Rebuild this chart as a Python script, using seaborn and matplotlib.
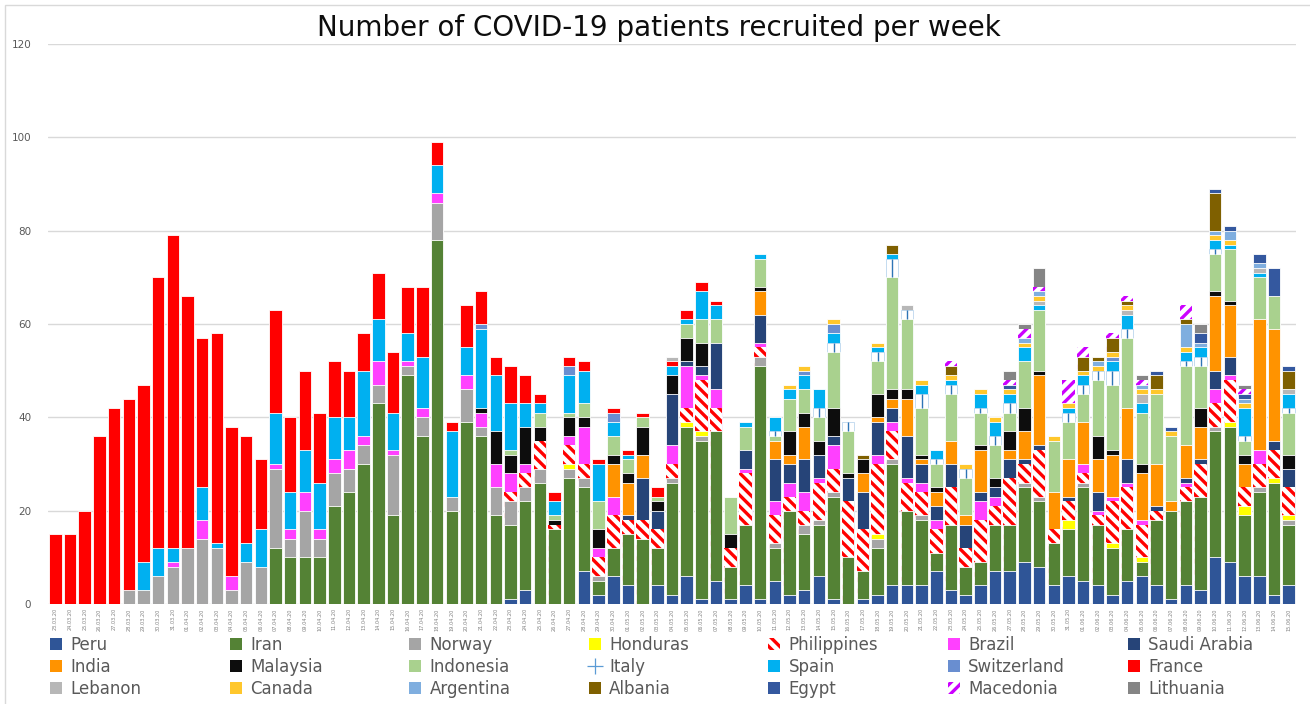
import matplotlib
matplotlib.use("Agg")
import matplotlib.pyplot as plt
from matplotlib.patches import Patch, Rectangle
from matplotlib.lines import Line2D
import numpy as np
import pandas as pd
import seaborn as sns

# one label per day, 23.03.20 .. 15.06.20
dates = pd.date_range("2020-03-23", "2020-06-15", freq="D").strftime("%d.%m.%y").tolist()

peru = [0] * 30 + [
    0, 1, 3, 0, 0, 0, 7, 2, 6, 4,
    0, 4, 2, 6, 1, 5, 1, 4, 1, 5,
    2, 3, 6, 1, 0, 1, 2, 4, 4, 4,
    7, 3, 2, 4, 7, 7, 9, 8, 4, 6,
    5, 4, 2, 5, 6, 4, 1, 4, 3, 10,
    9, 6, 6, 2, 4]
iran = [0] * 10 + [
    0, 0, 0, 0, 0, 12, 10, 10, 10, 21,
    24, 30, 43, 19, 49, 36, 78, 20, 39, 36,
    19, 16, 19, 26, 16, 27, 18, 3, 6, 11,
    14, 8, 24, 32, 34, 32, 7, 13, 50, 7,
    18, 12, 11, 22, 10, 6, 10, 26, 16, 14,
    4, 14, 6, 5, 10, 10, 16, 14, 9, 10,
    20, 13, 10, 11, 3, 14, 19, 18, 20, 27,
    29, 13, 18, 24, 13]
norway = [
    0, 0, 0, 0, 0, 3, 3, 6, 8, 12,
    14, 12, 3, 9, 8, 17, 4, 10, 4, 7,
    5, 4, 4, 13, 2, 4, 8, 3, 7, 2,
    6, 5, 3, 3, 0, 2, 2, 1, 0, 0,
    0, 0, 1, 0, 1, 0, 0, 0, 2, 1,
    0, 2, 1, 1, 0, 0, 2, 1, 0, 1,
    0, 0, 0, 0, 0, 0, 1, 1, 0, 0,
    1, 0, 0, 0, 0, 0, 0, 0, 0, 1,
    0, 0, 1, 0, 1]
honduras = [0] * 30 + [
    0, 0, 0, 0, 0, 1, 0, 0, 0, 0,
    0, 0, 0, 1, 1, 0, 0, 0, 0, 0,
    0, 0, 0, 0, 0, 0, 1, 0, 0, 0,
    0, 0, 0, 0, 0, 0, 0, 0, 0, 2,
    0, 0, 1, 0, 1, 0, 0, 0, 0, 0,
    1, 2, 0, 1, 1]
philippines = [0] * 30 + [
    0, 2, 3, 6, 1, 4, 3, 4, 7, 3,
    4, 4, 3, 3, 11, 5, 4, 11, 2, 6,
    3, 3, 8, 5, 12, 9, 15, 6, 6, 5,
    5, 8, 4, 9, 4, 10, 4, 10, 3, 4,
    2, 2, 9, 9, 7, 2, 0, 3, 7, 5,
    9, 4, 5, 6, 6]
brazil = [
    0, 0, 0, 0, 0, 0, 0, 0, 1, 0,
    4, 0, 3, 0, 0, 1, 2, 4, 2, 3,
    4, 2, 5, 1, 1, 2, 2, 0, 3, 3,
    5, 4, 2, 0, 0, 2, 8, 2, 4, 0,
    0, 0, 4, 9, 1, 4, 0, 1, 1, 3,
    3, 4, 1, 5, 0, 0, 2, 2, 1, 2,
    2, 0, 0, 4, 2, 0, 0, 0, 0, 0,
    2, 1, 1, 1, 1, 0, 0, 1, 0, 3,
    1, 0, 3, 0, 0]
saudi_arabia = [0] * 30 + [
    0, 0, 0, 0, 0, 0, 0, 0, 0, 1,
    9, 4, 11, 1, 2, 10, 0, 4, 6, 9,
    4, 7, 5, 2, 5, 8, 7, 3, 9, 4,
    3, 5, 5, 2, 2, 4, 1, 1, 0, 1,
    0, 4, 0, 5, 0, 1, 0, 1, 1, 4,
    4, 0, 0, 2, 4]
india = [0] * 30 + [
    0, 0, 0, 0, 0, 0, 0, 0, 7, 7,
    5, 0, 0, 0, 0, 0, 0, 0, 5, 4,
    2, 7, 0, 0, 0, 4, 1, 2, 8, 1,
    3, 5, 2, 9, 0, 2, 6, 15, 8, 8,
    9, 7, 9, 11, 10, 9, 2, 7, 7, 16,
    11, 5, 28, 24, 0]
malaysia = [0] * 20 + [
    0, 0, 0, 0, 0, 0, 0, 0, 0, 1,
    7, 4, 8, 3, 1, 4, 2, 4, 2, 2,
    6, 2, 4, 5, 5, 0, 3, 0, 1, 0,
    5, 3, 3, 6, 1, 3, 5, 2, 2, 1,
    1, 0, 0, 1, 2, 4, 5, 1, 0, 0,
    0, 5, 1, 0, 2, 0, 0, 0, 4, 1,
    1, 2, 0, 0, 3]
indonesia = [0] * 30 + [
    0, 1, 0, 3, 1, 1, 3, 6, 4, 3,
    2, 1, 0, 3, 5, 5, 8, 5, 6, 1,
    7, 5, 5, 12, 9, 0, 7, 24, 15, 10,
    5, 10, 8, 7, 7, 4, 10, 13, 11, 8,
    6, 12, 14, 15, 11, 15, 14, 17, 9, 8,
    11, 3, 9, 7, 9]
italy = [0] * 40 + [
    0, 0, 0, 0, 0, 0, 0, 0, 0, 1,
    0, 0, 2, 2, 2, 0, 2, 4, 2, 3,
    1, 2, 2, 1, 2, 2, 0, 0, 0, 2,
    2, 2, 3, 2, 0, 0, 0, 1, 2, 1,
    0, 1, 0, 0, 1]
spain = [
    0, 0, 0, 0, 0, 0, 6, 6, 3, 0,
    7, 1, 0, 4, 8, 11, 8, 9, 10, 9,
    7, 14, 9, 8, 6, 11, 6, 14, 6, 17,
    12, 10, 5, 2, 3, 8, 7, 8, 3, 1,
    0, 0, 2, 1, 6, 3, 0, 1, 1, 3,
    2, 3, 4, 2, 0, 0, 1, 1, 0, 2,
    2, 1, 0, 3, 3, 2, 3, 1, 0, 1,
    2, 0, 2, 3, 2, 0, 0, 2, 2, 2,
    1, 6, 1, 0, 3]
switzerland = [0] * 20 + [
    0, 0, 0, 0, 0, 0, 0, 0, 0, 1,
    0, 0, 0, 0, 0, 2, 0, 0, 2, 0,
    0, 0, 0, 0, 0, 0, 0, 0, 0, 0,
    0, 1, 0, 2, 0, 0, 0, 0, 0, 0,
    0, 0, 0, 0, 0, 0, 0, 0, 0, 0,
    0, 0, 1, 0, 0, 0, 0, 0, 0, 0,
    0, 0, 0, 0, 0]
france = [
    15, 15, 20, 36, 42, 41, 38, 58, 67, 54,
    32, 45, 32, 23, 15, 22, 16, 17, 15, 12,
    10, 8, 10, 13, 10, 15, 5, 2, 9, 7,
    4, 8, 6, 2, 2, 2, 2, 1, 1, 1,
    1, 2, 1, 2, 2, 1, 0, 0, 0, 0] + [0] * 35
lebanon = [0] * 40 + [
    0, 0, 1, 0, 0, 0, 0, 0, 0, 0,
    0, 0, 0, 0, 0, 0, 0, 0, 1, 0,
    0, 0, 0, 0, 0, 0, 0, 1, 0, 0,
    0, 0, 0, 1, 2, 0, 0, 0, 0, 0,
    0, 0, 1, 0, 1]
canada = [0] * 50 + [
    1, 1, 0, 1, 0, 0, 1, 0, 0, 1,
    0, 1, 1, 1, 1, 1, 1, 1, 1, 1,
    1, 1, 1, 1, 1, 1, 1, 1, 0, 1,
    1, 1, 0, 0, 0]
argentina = [0] * 60 + [
    0, 0, 0, 0, 0, 0, 1, 1, 0, 0,
    0, 1, 0, 0, 1, 0, 0, 5, 1, 1,
    2, 1, 1, 0, 0]
albania = [0] * 50 + [
    0, 0, 0, 0, 0, 1, 0, 2, 0, 0,
    0, 2, 0, 0, 0, 0, 0, 0, 0, 0,
    3, 1, 3, 1, 0, 3, 0, 1, 0, 8,
    0, 0, 0, 0, 4]
egypt = [0] * 60 + [
    0, 0, 0, 0, 0, 1, 0, 0, 0, 0,
    0, 0, 0, 0, 0, 1, 1, 0, 2, 1,
    1, 1, 2, 6, 1]
macedonia = [0] * 60 + [
    0, 1, 0, 0, 0, 1, 2, 1, 0, 5,
    2, 0, 1, 1, 1, 0, 0, 3, 0, 0,
    0, 1, 0, 0, 0]
lithuania = [0] * 60 + [
    0, 0, 0, 0, 0, 2, 1, 4, 0, 0,
    0, 0, 0, 0, 1, 0, 0, 0, 2, 0,
    0, 1, 0, 0, 0]

countries = ["Peru", "Iran", "Norway", "Honduras", "Philippines", "Brazil", "Saudi Arabia",
             "India", "Malaysia", "Indonesia", "Italy", "Spain", "Switzerland", "France",
             "Lebanon", "Canada", "Argentina", "Albania", "Egypt", "Macedonia", "Lithuania"]
series = [peru, iran, norway, honduras, philippines, brazil, saudi_arabia,
          india, malaysia, indonesia, italy, spain, switzerland, france,
          lebanon, canada, argentina, albania, egypt, macedonia, lithuania]

colors = {
    "Peru": "#2F5597", "Iran": "#548235", "Norway": "#A5A5A5", "Honduras": "#FFFF00",
    "Philippines": "#FF0000", "Brazil": "#FF40FF", "Saudi Arabia": "#264478",
    "India": "#FF9300", "Malaysia": "#0D0D0D", "Indonesia": "#A9D18E", "Italy": "#5B9BD5",
    "Spain": "#00B0F0", "Switzerland": "#698ED0", "France": "#FF0000", "Lebanon": "#B7B7B7",
    "Canada": "#FFC72C", "Argentina": "#7FAEDF", "Albania": "#7F6000", "Egypt": "#34589F",
    "Macedonia": "#CC00FF", "Lithuania": "#858585",
}


def bar_style(name):
    if name == "Philippines":
        return dict(color="white", edgecolor=colors[name], hatch="\\\\\\", linewidth=0)
    if name == "Macedonia":
        return dict(color="white", edgecolor=colors[name], hatch="///", linewidth=0)
    if name == "Italy":
        return dict(color="white", edgecolor="#BDD7EE", linewidth=0.6)
    return dict(color=colors[name], edgecolor="white", linewidth=0.6)


def legend_handle(name):
    if name == "Italy":
        return Line2D([], [], color=colors[name], marker="+", linestyle="none",
                      markersize=11, markeredgewidth=0.9)
    if name in ("Philippines", "Macedonia"):
        st = bar_style(name)
        return Patch(facecolor="white", edgecolor=st["edgecolor"], hatch=st["hatch"], linewidth=0)
    return Patch(facecolor=colors[name], edgecolor="none")


sns.set_style("white")
plt.rcParams["font.family"] = ["DejaVu Sans"]
plt.rcParams["hatch.linewidth"] = 2.4

df = pd.DataFrame(dict(zip(countries, series)), index=dates)
tops = df.cumsum(axis=1)
bases = tops - df

fig = plt.figure(figsize=(13.1, 7.04), dpi=100)
ax = fig.add_axes([48 / 1310, 100 / 704, 1248 / 1310, 560 / 704])

# stacked bars: draw the cumulative totals from the top layer down
for name in reversed(countries):
    heights = tops[name].where(df[name] > 0)
    sns.barplot(x=dates, y=heights.values, order=dates, ax=ax, saturation=1,
                width=0.85, errorbar=None, **bar_style(name))

# Italy marker: thin vertical line through its segment
pos = np.arange(len(dates))
has_italy = df["Italy"].values > 0
ax.vlines(pos[has_italy], bases["Italy"].values[has_italy], tops["Italy"].values[has_italy],
          color="#2E75B6", linewidth=1.0, zorder=5)

ax.set_xlim(-0.5, len(dates) - 0.5)
ax.set_ylim(0, 120)
ax.set_yticks(range(0, 121, 20))
ax.yaxis.grid(True, color="#D9D9D9", linewidth=1)
ax.xaxis.grid(False)
ax.set_axisbelow(True)
sns.despine(ax=ax, left=True, bottom=True)
ax.set_xlabel("")
ax.set_ylabel("")
ax.set_xticks(pos)
ax.set_xticklabels(dates, rotation=90, fontsize=3.6, color="#808080")
ax.tick_params(axis="x", length=0, pad=3)
ax.tick_params(axis="y", length=0, pad=12, labelsize=7.5, labelcolor="#595959")

fig.text(0.503, 0.96, "Number of COVID-19 patients recruited per week",
         ha="center", va="center", fontsize=20, color="#0D0D0D")

# legend: 3 rows x 7 evenly spaced columns
for j in range(7):
    names = [countries[r * 7 + j] for r in range(3)]
    fig.legend([legend_handle(n) for n in names], names,
               loc="upper left", bbox_to_anchor=((50 + j * 179.6) / 1310, 0.0965),
               frameon=False, fontsize=12, labelcolor="#595959",
               handlelength=0.72, handleheight=0.68, handletextpad=0.5,
               labelspacing=0.24, borderpad=0, borderaxespad=0)

fig.add_artist(Rectangle((5 / 1310, -0.01), 1.1, 1 - 5 / 704 + 0.01,
                         transform=fig.transFigure, fill=False,
                         edgecolor="#D9D9D9", linewidth=1))

fig.savefig("out.png", dpi=100)
